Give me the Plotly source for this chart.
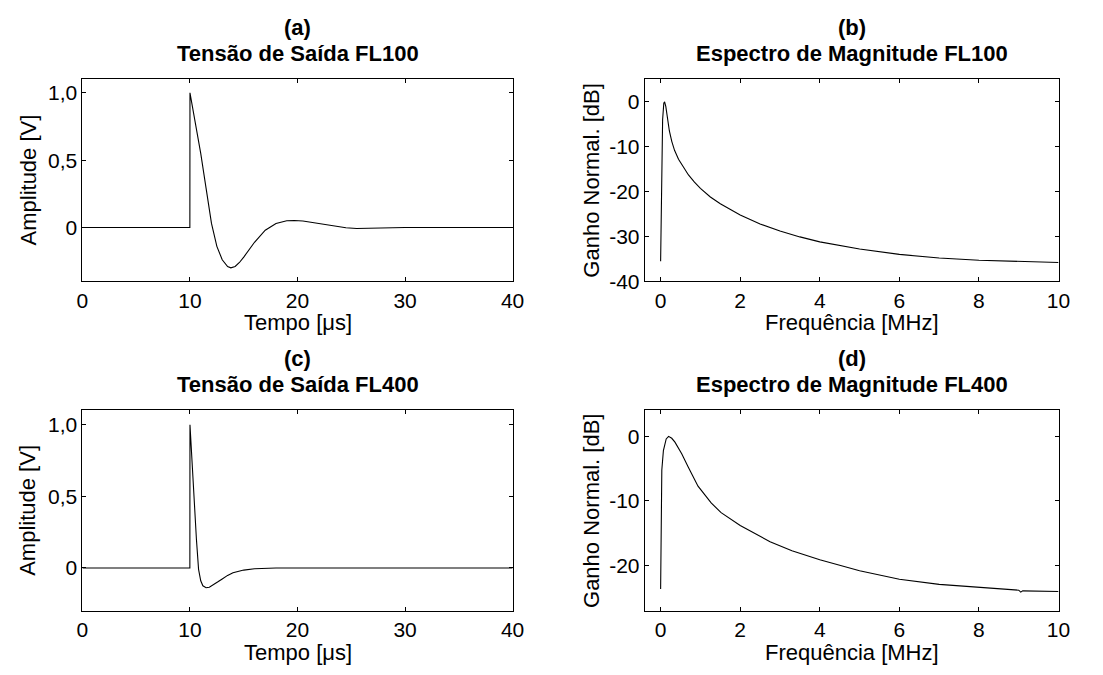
import plotly.graph_objects as go

# ---------------- data ----------------
t_a = [0, 9.99, 10.0, 10.5, 11.0, 11.5, 12.0, 12.5, 13.0, 13.5, 13.8, 14.2, 14.6, 15.0, 16.0, 17.0, 18.0, 19.0, 19.7, 20.5, 21.5, 22.5, 23.5, 24.5, 25.5, 26.5, 28.0, 30.0, 40.0]
v_a = [0, 0, 1.0, 0.78, 0.55, 0.29, 0.03, -0.14, -0.24, -0.29, -0.30, -0.29, -0.26, -0.22, -0.11, -0.02, 0.03, 0.05, 0.052, 0.048, 0.035, 0.02, 0.008, -0.002, -0.008, -0.007, -0.002, 0.0, 0.0]

f_b = [0, 0.02, 0.05, 0.08, 0.1, 0.13, 0.17, 0.22, 0.28, 0.35, 0.45, 0.55, 0.7, 0.85, 1.0, 1.25, 1.5, 2.0, 2.5, 3.0, 3.5, 4.0, 5.0, 6.0, 7.0, 8.0, 9.0, 10.0]
g_b = [-35.5, -20, -4, -0.3, 0, -1.0, -3.5, -6.5, -8.8, -10.8, -12.8, -14.2, -16.3, -17.9, -19.3, -21.2, -22.7, -25.2, -27.2, -28.8, -30.1, -31.2, -32.8, -34.0, -34.8, -35.3, -35.6, -35.8]

t_c = [0, 9.99, 10.0, 10.2, 10.4, 10.6, 10.8, 11.0, 11.2, 11.5, 11.8, 12.2, 12.6, 13.0, 13.5, 14.0, 14.5, 15.0, 16.0, 17.0, 18.0, 40.0]
v_c = [0, 0, 1.0, 0.72, 0.45, 0.2, -0.01, -0.09, -0.125, -0.138, -0.135, -0.118, -0.097, -0.077, -0.052, -0.034, -0.022, -0.015, -0.006, -0.002, 0.0, 0.0]

f_d = [0, 0.01, 0.03, 0.07, 0.14, 0.2, 0.28, 0.36, 0.53, 0.69, 0.94, 1.27, 1.52, 2.0, 2.75, 3.3, 4.0, 5.0, 6.0, 7.0, 8.0, 9.0, 9.05, 9.1, 10.0]
g_d = [-23.6, -12, -5.2, -2.2, -0.4, 0, -0.3, -0.9, -2.7, -4.7, -7.7, -10.3, -11.8, -13.8, -16.3, -17.7, -19.1, -20.8, -22.1, -22.9, -23.4, -23.8, -24.1, -23.9, -24.0]

xt_time = [0, 10, 20, 30, 40]
xt_freq = [0, 2, 4, 6, 8, 10]
yt_amp = [0, 0.5, 1.0]
yt_amp_txt = ["0", "0,5", "1,0"]
yt_b = [-40, -30, -20, -10, 0]
yt_d = [-20, -10, 0]

titles = [("(a)", "Tensão de Saída FL100"), ("(b)", "Espectro de Magnitude FL100"),
          ("(c)", "Tensão de Saída FL400"), ("(d)", "Espectro de Magnitude FL400")]

# ---------------- figure ----------------
W, H = 1103, 675
FONT = "Liberation Sans, Arial, sans-serif"
FS = 21   # tick labels
FA = 22   # axis titles
FT = 22   # panel titles

fig = go.Figure()
line = dict(color="black", width=1.1)
fig.add_trace(go.Scatter(x=t_a, y=v_a, mode="lines", line=line, xaxis="x", yaxis="y", showlegend=False))
fig.add_trace(go.Scatter(x=f_b, y=g_b, mode="lines", line=line, xaxis="x2", yaxis="y2", showlegend=False))
fig.add_trace(go.Scatter(x=t_c, y=v_c, mode="lines", line=line, xaxis="x3", yaxis="y3", showlegend=False))
fig.add_trace(go.Scatter(x=f_d, y=g_d, mode="lines", line=line, xaxis="x4", yaxis="y4", showlegend=False))

def px(x):
    return x / W

def py(y):
    return 1 - y / H

L1, R1 = 77.7, 515.0
L2, R2 = 649.3, 1070.0
T1, B1 = 80.7, 286.0
T2, B2 = 417.3, 621.0

common = dict(showline=True, linecolor="black", linewidth=1, mirror="ticks", ticks="inside",
              ticklen=4, tickcolor="black", showgrid=False, zeroline=False,
              tickfont=dict(family=FONT, size=FS, color="black"))

fig.update_layout(
    width=W, height=H, margin=dict(l=0, r=0, t=0, b=0),
    paper_bgcolor="white", plot_bgcolor="white",
    xaxis=dict(domain=[px(L1), px(R1)], range=[0, 40], tickvals=xt_time, anchor="y", **common),
    yaxis=dict(domain=[py(B1), py(T1)], range=[-0.4, 1.1], tickvals=yt_amp, ticktext=yt_amp_txt, anchor="x", **common),
    xaxis2=dict(domain=[px(L2), px(R2)], range=[-0.4, 10], tickvals=xt_freq, anchor="y2", **common),
    yaxis2=dict(domain=[py(B1), py(T1)], range=[-40, 5], tickvals=yt_b, ticktext=[str(v) for v in yt_b], anchor="x2", **common),
    xaxis3=dict(domain=[px(L1), px(R1)], range=[0, 40], tickvals=xt_time, anchor="y3", **common),
    yaxis3=dict(domain=[py(B2), py(T2)], range=[-0.3, 1.1], tickvals=yt_amp, ticktext=yt_amp_txt, anchor="x3", **common),
    xaxis4=dict(domain=[px(L2), px(R2)], range=[-0.4, 10], tickvals=xt_freq, anchor="y4", **common),
    yaxis4=dict(domain=[py(B2), py(T2)], range=[-27, 4], tickvals=yt_d, ticktext=[str(v) for v in yt_d], anchor="x4", **common),
)

ann = []
def add_text(text, x, y, size=FS, bold=False, angle=0):
    ann.append(dict(text=("<b>%s</b>" % text) if bold else text, x=px(x), y=py(y), xref="paper", yref="paper",
                    xanchor="center", yanchor="middle", showarrow=False, textangle=angle,
                    font=dict(family=FONT, size=size, color="black")))

centers = [((L1 + R1) / 2, 0), ((L2 + R2) / 2, 0), ((L1 + R1) / 2, 336.6), ((L2 + R2) / 2, 336.6)]
for (lab, tit), (cx, dy) in zip(titles, centers):
    add_text(lab, cx, 28 + dy, size=FT, bold=True)
    add_text(tit, cx, 54 + dy, size=FT, bold=True)

add_text("Tempo [μs]", (L1 + R1) / 2, 328, size=FA)
add_text("Tempo [μs]", (L1 + R1) / 2, 663, size=FA)
add_text("Frequência [MHz]", (L2 + R2) / 2, 328, size=FA)
add_text("Frequência [MHz]", (L2 + R2) / 2, 663, size=FA)
add_text("Amplitude [V]", 22.5, (T1 + B1) / 2, size=FA, angle=-90)
add_text("Amplitude [V]", 22.5, (T2 + B2) / 2, size=FA, angle=-90)
add_text("Ganho Normal. [dB]", 595, (T1 + B1) / 2, size=FA, angle=-90)
add_text("Ganho Normal. [dB]", 595, (T2 + B2) / 2, size=FA, angle=-90)
fig.update_layout(annotations=ann)

fig.write_html("out.html")
